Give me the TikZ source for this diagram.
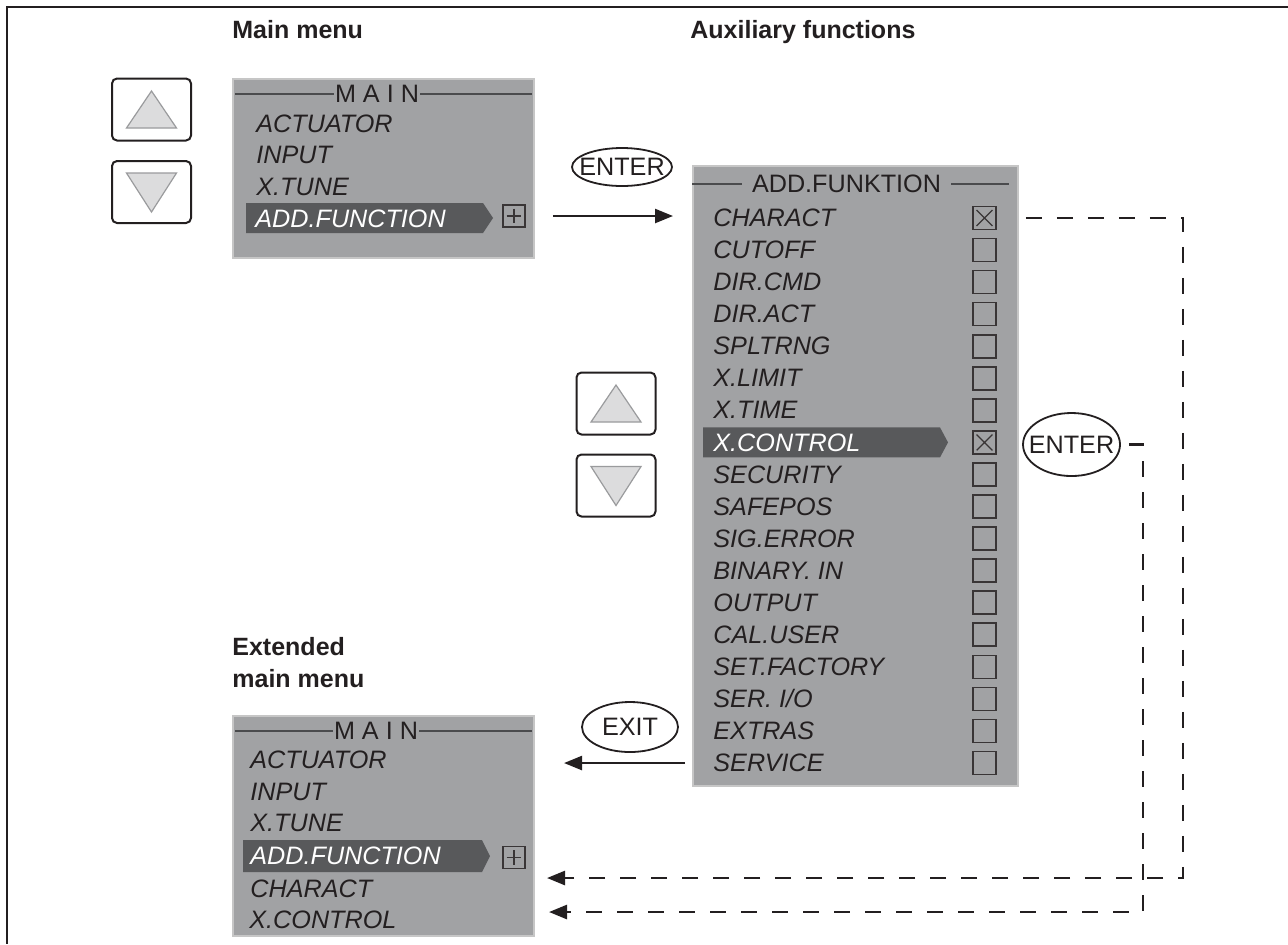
\documentclass[tikz,border=0pt]{standalone}
\usepackage{fontspec}
\setmainfont{Liberation Sans}
\usepackage{xcolor}
\definecolor{ink}{HTML}{231F20}
\definecolor{panel}{HTML}{A1A2A4}
\definecolor{rim}{HTML}{C6C6C6}
\definecolor{selbar}{HTML}{58595B}
\definecolor{rule}{HTML}{4A4B4D}
\definecolor{trifill}{HTML}{DCDCDD}
\definecolor{triline}{HTML}{9A9B9D}
\usetikzlibrary{arrows.meta, shapes.geometric}
\tikzset{
  >={Triangle[length=9pt, width=7pt]},
  panel/.style={draw=rim, line width=1pt, fill=panel, anchor=north west, inner sep=0pt},
  item/.style={anchor=base west, inner sep=0pt, text=ink, font=\fontsize{12.6}{14}\selectfont\itshape},
  head/.style={inner ysep=0pt, text=ink, font=\fontsize{12.6}{14}\selectfont},
  headrule/.style={draw=rule, line width=1.3pt},
  title/.style={anchor=base west, inner sep=0pt, text=ink, font=\fontsize{12.5}{16}\selectfont\bfseries},
  keybox/.style={draw=ink, line width=1pt, rounded corners=2.5pt, fill=white,
    minimum width=39.5pt, minimum height=31pt},
  tri/.style={draw=triline, fill=trifill, line width=0.6pt},
  sel/.style={fill=selbar},
  tick/.style={draw=ink!90, line width=0.8pt, minimum size=11.5pt, inner sep=0pt},
  ticked/.style={tick, path picture={
    \draw[ink!90, line width=0.6pt]
      ([shift={(1.8pt,-1.8pt)}]path picture bounding box.north west) --
      ([shift={(-1.8pt,1.8pt)}]path picture bounding box.south east)
      ([shift={(-1.8pt,-1.8pt)}]path picture bounding box.north east) --
      ([shift={(1.8pt,1.8pt)}]path picture bounding box.south west);}},
  plus/.style={tick, minimum size=11pt, path picture={
    \draw[ink!90, line width=0.6pt]
      ([xshift=1.8pt]path picture bounding box.west) --
      ([xshift=-1.8pt]path picture bounding box.east)
      ([yshift=-1.8pt]path picture bounding box.north) --
      ([yshift=1.8pt]path picture bounding box.south);}},
  oval/.style={ellipse, draw=ink, line width=0.9pt, inner sep=0pt, text=ink,
    font=\fontsize{12.6}{14}\selectfont},
  flow/.style={->, line width=1.2pt, draw=ink},
  dflow/.style={flow, line width=1.3pt, dash pattern=on 8pt off 7.5pt},
  fn 7/.style={text=white},
  chk 0/.style={ticked},
  chk 7/.style={ticked},
}

\begin{document}
\begin{tikzpicture}[x=0.5pt, y=-0.5pt]
  \useasboundingbox (0,0) rectangle (1288,944);
  \draw[line width=1.2pt, ink] (1288,7) -- (7,7) -- (7,944);

  % Headings over the three screens.
  \node[title] (tMain) at (232,38) {Main menu};
  \node[title] (tAux) at (690,38) {Auxiliary functions};
  \node[title, align=left, anchor=north west] (tExt) at (232,637) {Extended\\main menu};

  % Arrow keys beside the main menu.
  \node[keybox] (upA) at (151.5,109.5) {};
  \draw[tri] (upA.center) ++(0,-18.5) -- ++(25,37) -- ++(-50,0) -- cycle;
  \node[keybox] (downA) at (151.5,192) {};
  \draw[tri] (downA.center) ++(0,20) -- ++(25,-39) -- ++(-50,0) -- cycle;

  % Main menu.
  \node[panel, minimum width=150.5pt, minimum height=89.5pt] (mainA) at (232,78) {};
  \node[head, inner xsep=0.5pt] (mainAhead) at (377,94) {M A I N};
  \draw[headrule] ([xshift=1.5pt]mainA.west |- mainAhead) -- (mainAhead.west);
  \draw[headrule] (mainAhead.east) -- ([xshift=-1.5pt]mainA.east |- mainAhead);
  \fill[sel] (246,203) -- (483,203) -- (493,218) -- (483,233) -- (246,233) -- cycle;
  \foreach \txt [count=\i] in {ACTUATOR, INPUT, X.TUNE}
    \node[item] (mainA-\i) at (256,{100.3+31.7*\i}) {\txt};
  \node[item, text=white] (mainA-4) at (255,227) {ADD.FUNCTION};
  \node[plus] (plusA) at (514,216) {};

  % Auxiliary functions list.
  \node[panel, minimum width=162.5pt, minimum height=310pt] (addfn) at (692,165) {};
  \node[head, inner xsep=5pt] (fnhead) at (846.5,184) {ADD.FUNKTION};
  \draw[headrule] (addfn.west |- fnhead) -- (fnhead.west);
  \draw[headrule] (fnhead.east) -- ([xshift=-5pt]addfn.east |- fnhead);
  \fill[sel] (703,427.4) -- (940,427.4) -- (948,442.4) -- (940,457.4) -- (703,457.4) -- cycle;
  \foreach \txt [count=\i from 0] in {CHARACT, CUTOFF, DIR.CMD, DIR.ACT, SPLTRNG, X.LIMIT,
      X.TIME, X.CONTROL, SECURITY, SAFEPOS, SIG.ERROR, BINARY. IN, OUTPUT, CAL.USER,
      SET.FACTORY, SER. I/O, EXTRAS, SERVICE} {
    \node[item, fn \i/.try] (fn-\i) at (713,{226.6+32.06*\i}) {\txt};
    \node[tick, chk \i/.try] (chk-\i) at (984.5,{218+32.06*\i}) {};
  }

  \node[oval, minimum width=50pt, minimum height=19pt] (enterA) at (622,167) {\makebox[0pt]{ENTER}};
  \draw[flow] ([xshift=13.5pt]plusA.east) -- ([xshift=-9.5pt]addfn.west |- plusA.east);

  % Arrow keys beside the list.
  \node[keybox] (upB) at (616,403.5) {};
  \draw[tri] (upB.center) ++(0,-18.5) -- ++(25,37) -- ++(-50,0) -- cycle;
  \node[keybox] (downB) at (616,485.5) {};
  \draw[tri] (downB.center) ++(0,20) -- ++(25,-39) -- ++(-50,0) -- cycle;

  \node[oval, minimum width=48.5pt, minimum height=31.5pt] (enterB) at (1071.5,444.5) {\makebox[0pt]{ENTER}};
  \node[oval, minimum width=48pt, minimum height=25pt] (exitB) at (630,727) {\makebox[0pt]{EXIT}};

  % Extended main menu.
  \node[panel, minimum width=150.5pt, minimum height=110pt] (mainB) at (232,715) {};
  \node[head, inner xsep=0.5pt] (mainBhead) at (376,731) {M A I N};
  \draw[headrule] ([xshift=1.5pt]mainB.west |- mainBhead) -- (mainBhead.west);
  \draw[headrule] (mainBhead.east) -- ([xshift=-1.5pt]mainB.east |- mainBhead);
  \fill[sel] (243,840) -- (482,840) -- (490,856) -- (482,872) -- (243,872) -- cycle;
  \foreach \txt [count=\i] in {ACTUATOR, INPUT, X.TUNE}
    \node[item] (mainB-\i) at (250,{736.8+31.7*\i}) {\txt};
  \node[item, text=white] (mainB-4) at (250,864.6) {ADD.FUNCTION};
  \node[item] (mainB-5) at (250,897) {CHARACT};
  \node[item] (mainB-6) at (249,928) {X.CONTROL};
  \node[plus] (plusB) at (514,857.5) {};

  % Ways back.
  \draw[flow] ([xshift=-3.5pt]addfn.west |- chk-17) -- ([xshift=14.5pt]mainB.east |- chk-17);
  \coordinate (retA) at (1183,878);
  \coordinate (retB) at (1143,912);
  \draw[dflow] ([xshift=14.5pt]chk-0.east) -| (retA) -- ([xshift=6pt]mainB.east |- retA);
  \draw[dflow] ([xshift=4pt]enterB.east) -| (retB) -- ([xshift=7pt]mainB.east |- retB);
\end{tikzpicture}
\end{document}
